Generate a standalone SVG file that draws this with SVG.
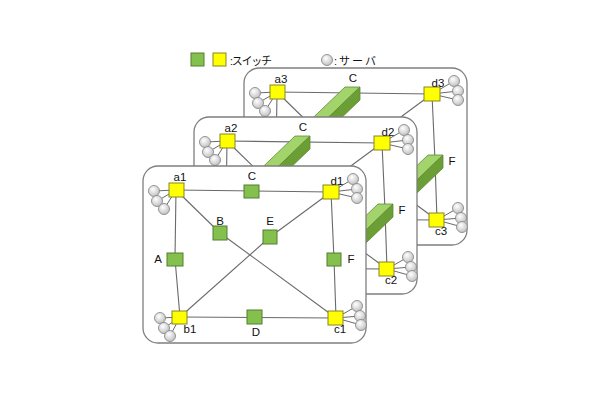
<svg xmlns="http://www.w3.org/2000/svg" xmlns:xlink="http://www.w3.org/1999/xlink" width="610" height="400" viewBox="0 0 610 400">
<style>
.panel{fill:#fff;stroke:#7f7f7f;stroke-width:1.3}
.ed{stroke:#6a6a6a;stroke-width:1.1}
.sl{stroke:#6a6a6a;stroke-width:1}
.sv{fill:url(#sg);stroke:#8a8a8a;stroke-width:0.9}
.sw{fill:#ffff00;stroke:#85852a;stroke-width:1}
.gr{fill:#83c04d;stroke:#557f30;stroke-width:1}
.bt{fill:#a3d46c;stroke:#5d8a32;stroke-width:0.8}
.br{fill:#6c9e36;stroke:#5d8a32;stroke-width:0.8}
text{font-family:"Liberation Sans","Noto Sans CJK JP",sans-serif;font-size:11.5px;fill:#111;text-anchor:middle}
.lg{text-anchor:start;font-size:11px}
</style>
<defs>
<radialGradient id="sg" cx="0.4" cy="0.35" r="0.7">
<stop offset="0" stop-color="#ffffff"/>
<stop offset="1" stop-color="#bdbdbd"/>
</radialGradient>
<g id="bar">
<polygon class="bt" points="0,0 15,0 -36,49 -51,49"/>
<polygon class="br" points="15,0 15,13 -36,62 -36,49"/>
</g>
<g id="edgeset" stroke="#6a6a6a" stroke-width="1.1">
<line class="ed" x1="176" y1="190" x2="331" y2="192"/>
<line class="ed" x1="176" y1="190" x2="175" y2="259"/>
<line class="ed" x1="175" y1="259" x2="180" y2="317"/>
<line class="ed" x1="176" y1="190" x2="220" y2="233"/>
<line class="ed" x1="220" y1="233" x2="336" y2="318"/>
<line class="ed" x1="180" y1="317" x2="270" y2="237"/>
<line class="ed" x1="270" y1="237" x2="331" y2="192"/>
<line class="ed" x1="331" y1="192" x2="334" y2="259"/>
<line class="ed" x1="334" y1="259" x2="336" y2="318"/>
<line class="ed" x1="180" y1="317" x2="336" y2="318"/>
</g>
</defs>

<!-- legend -->
<g id="legend">
<rect class="gr" x="191" y="53" width="13" height="13"/>
<rect class="sw" x="213" y="53" width="13" height="13"/>
<text class="lg" x="230" y="65" textLength="42">:スイッチ</text>
<circle class="sv" cx="327" cy="60" r="5.5"/>
<text class="lg" x="334" y="65" textLength="42">:サーバ</text>
</g>

<!-- back layer -->
<g id="layer3" transform="translate(101,-98)">
<rect class="panel" x="143" y="166" width="223" height="177" rx="15"/>
<g id="connectors3"><use xlink:href="#edgeset"/></g>
<g id="a3">
<line class="sl" x1="176" y1="190" x2="154" y2="191"/><line class="sl" x1="176" y1="190" x2="157" y2="201"/><line class="sl" x1="176" y1="190" x2="164" y2="209"/>
<circle class="sv" cx="154" cy="191" r="5.5"/><circle class="sv" cx="157" cy="201" r="5.5"/><circle class="sv" cx="164" cy="209" r="5.5"/>
<rect class="sw" x="169" y="183" width="15" height="14"/><text x="180" y="181">a3</text></g>
<g id="C3"><use xlink:href="#bar" transform="translate(244,185)"/><text x="252" y="180">C</text></g>
<g id="d3">
<line class="sl" x1="331" y1="192" x2="353" y2="179"/><line class="sl" x1="331" y1="192" x2="357" y2="189"/><line class="sl" x1="331" y1="192" x2="357" y2="198"/>
<circle class="sv" cx="353" cy="179" r="5.5"/><circle class="sv" cx="357" cy="189" r="5.5"/><circle class="sv" cx="357" cy="198" r="5.5"/>
<rect class="sw" x="323" y="185" width="16" height="14"/><text x="337" y="185">d3</text></g>
<g id="F3"><use xlink:href="#bar" transform="translate(327,253)"/><text x="351" y="263">F</text></g>
<g id="c3">
<line class="sl" x1="336" y1="318" x2="357" y2="306"/><line class="sl" x1="336" y1="318" x2="360" y2="316"/><line class="sl" x1="336" y1="318" x2="361" y2="325"/>
<circle class="sv" cx="357" cy="306" r="5.5"/><circle class="sv" cx="360" cy="316" r="5.5"/><circle class="sv" cx="361" cy="325" r="5.5"/>
<rect class="sw" x="328" y="311" width="15" height="14"/><text x="340" y="333">c3</text></g>
</g>

<!-- middle layer -->
<g id="layer2" transform="translate(51,-49)">
<rect class="panel" x="143" y="166" width="223" height="177" rx="15"/>
<g id="connectors2"><use xlink:href="#edgeset"/></g>
<g id="a2">
<line class="sl" x1="176" y1="190" x2="154" y2="191"/><line class="sl" x1="176" y1="190" x2="157" y2="201"/><line class="sl" x1="176" y1="190" x2="164" y2="209"/>
<circle class="sv" cx="154" cy="191" r="5.5"/><circle class="sv" cx="157" cy="201" r="5.5"/><circle class="sv" cx="164" cy="209" r="5.5"/>
<rect class="sw" x="169" y="183" width="15" height="14"/><text x="180" y="181">a2</text></g>
<g id="C2"><use xlink:href="#bar" transform="translate(244,185)"/><text x="252" y="180">C</text></g>
<g id="d2">
<line class="sl" x1="331" y1="192" x2="353" y2="179"/><line class="sl" x1="331" y1="192" x2="357" y2="189"/><line class="sl" x1="331" y1="192" x2="357" y2="198"/>
<circle class="sv" cx="353" cy="179" r="5.5"/><circle class="sv" cx="357" cy="189" r="5.5"/><circle class="sv" cx="357" cy="198" r="5.5"/>
<rect class="sw" x="323" y="185" width="16" height="14"/><text x="337" y="185">d2</text></g>
<g id="F2"><use xlink:href="#bar" transform="translate(327,253)"/><text x="351" y="263">F</text></g>
<g id="c2">
<line class="sl" x1="336" y1="318" x2="357" y2="306"/><line class="sl" x1="336" y1="318" x2="360" y2="316"/><line class="sl" x1="336" y1="318" x2="361" y2="325"/>
<circle class="sv" cx="357" cy="306" r="5.5"/><circle class="sv" cx="360" cy="316" r="5.5"/><circle class="sv" cx="361" cy="325" r="5.5"/>
<rect class="sw" x="328" y="311" width="15" height="14"/><text x="340" y="333">c2</text></g>
</g>

<!-- front layer -->
<g id="layer1">
<rect class="panel" x="143" y="166" width="223" height="177" rx="15"/>
<g id="connectors1"><use xlink:href="#edgeset"/></g>
<g id="a1">
<line class="sl" x1="176" y1="190" x2="154" y2="191"/><line class="sl" x1="176" y1="190" x2="157" y2="201"/><line class="sl" x1="176" y1="190" x2="164" y2="209"/>
<circle class="sv" cx="154" cy="191" r="5.5"/><circle class="sv" cx="157" cy="201" r="5.5"/><circle class="sv" cx="164" cy="209" r="5.5"/>
<rect class="sw" x="169" y="183" width="15" height="14"/><text x="180" y="181">a1</text></g>
<g id="C1"><rect class="gr" x="244" y="185" width="15" height="13"/><text x="252" y="180">C</text></g>
<g id="d1">
<line class="sl" x1="331" y1="192" x2="353" y2="179"/><line class="sl" x1="331" y1="192" x2="357" y2="189"/><line class="sl" x1="331" y1="192" x2="357" y2="198"/>
<circle class="sv" cx="353" cy="179" r="5.5"/><circle class="sv" cx="357" cy="189" r="5.5"/><circle class="sv" cx="357" cy="198" r="5.5"/>
<rect class="sw" x="323" y="185" width="16" height="14"/><text x="337" y="185">d1</text></g>
<g id="B1"><rect class="gr" x="213" y="226" width="14" height="14"/><text x="220" y="225">B</text></g>
<g id="E1"><rect class="gr" x="263" y="230" width="14" height="14"/><text x="270" y="225">E</text></g>
<g id="A1"><rect class="gr" x="167" y="253" width="16" height="13"/><text x="158" y="263">A</text></g>
<g id="F1"><rect class="gr" x="327" y="253" width="14" height="13"/><text x="351" y="263">F</text></g>
<g id="b1">
<line class="sl" x1="180" y1="317" x2="160" y2="318"/><line class="sl" x1="180" y1="317" x2="164" y2="328"/><line class="sl" x1="180" y1="317" x2="170" y2="336"/>
<circle class="sv" cx="160" cy="318" r="5.5"/><circle class="sv" cx="164" cy="328" r="5.5"/><circle class="sv" cx="170" cy="336" r="5.5"/>
<rect class="sw" x="172" y="311" width="15" height="13"/><text x="190" y="333">b1</text></g>
<g id="D1"><rect class="gr" x="247" y="310" width="15" height="14"/><text x="256" y="336">D</text></g>
<g id="c1">
<line class="sl" x1="336" y1="318" x2="357" y2="306"/><line class="sl" x1="336" y1="318" x2="360" y2="316"/><line class="sl" x1="336" y1="318" x2="361" y2="325"/>
<circle class="sv" cx="357" cy="306" r="5.5"/><circle class="sv" cx="360" cy="316" r="5.5"/><circle class="sv" cx="361" cy="325" r="5.5"/>
<rect class="sw" x="328" y="311" width="15" height="14"/><text x="340" y="333">c1</text></g>
</g>
</svg>
